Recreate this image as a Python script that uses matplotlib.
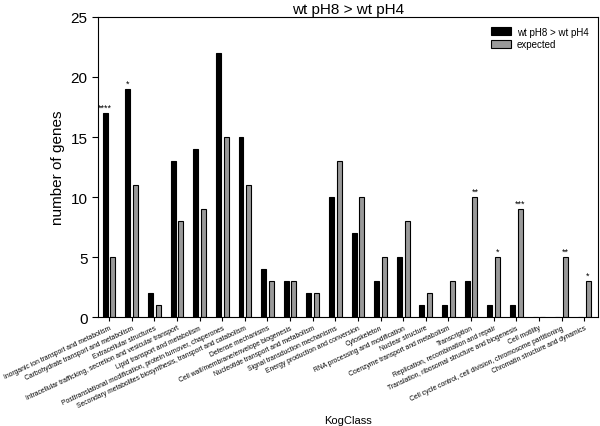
import numpy as np
import matplotlib
matplotlib.use('Agg')
import matplotlib.pyplot as plt

plt.rcParams['font.family'] = ['Liberation Sans', 'DejaVu Sans']

categories = [
    'Inorganic ion transport and metabolism',
    'Carbohydrate transport and metabolism',
    'Extracellular structures',
    'Intracellular trafficking, secretion and vesicular transport',
    'Lipid transport and metabolism',
    'Posttranslational modification, protein turnover, chaperones',
    'Secondary metabolites biosynthesis, transport and catabolism',
    'Defense mechanisms',
    'Cell wall/membrane/envelope biogenesis',
    'Nucleotide transport and metabolism',
    'Signal transduction mechanisms',
    'Energy production and conversion',
    'Cytoskeleton',
    'RNA processing and modification',
    'Nuclear structure',
    'Coenzyme transport and metabolism',
    'Transcription',
    'Replication, recombination and repair',
    'Translation, ribosomal structure and biogenesis',
    'Cell motility',
    'Cell cycle control, cell division, chromosome partitioning',
    'Chromatin structure and dynamics',
]
observed = [17, 19, 2, 13, 14, 22, 15, 4, 3, 2, 10, 7, 3, 5, 1, 1, 3, 1, 1, 0, 0, 0]
expected = [5, 11, 1, 8, 9, 15, 11, 3, 3, 2, 13, 10, 5, 8, 2, 3, 10, 5, 9, 0, 5, 3]

# significance marks: (category index, which bar, stars)
stars = [(0, 'obs', '****'), (1, 'obs', '*'), (16, 'exp', '**'),
         (17, 'exp', '*'), (18, 'exp', '***'), (20, 'exp', '**'), (21, 'exp', '*')]

x = np.arange(len(categories))
w = 0.22
off = 0.17

fig = plt.figure(figsize=(6, 4.27), dpi=100)
ax = fig.add_axes([0.163, 0.255, 0.834, 0.703])

ax.bar(x - off, observed, w, color='black', edgecolor='black', linewidth=0.8, label='wt pH8 > wt pH4')
ax.bar(x + off, expected, w, color='#999999', edgecolor='black', linewidth=0.8, label='expected')

for i, which, s in stars:
    if which == 'obs':
        xs, ys = x[i] - off, observed[i]
    else:
        xs, ys = x[i] + off, expected[i]
    ax.text(xs, ys + 0.1, s, ha='center', va='bottom', fontsize=6.5)

ax.set_xlim(-0.5, len(categories) - 0.38)
ax.set_ylim(0, 25)
ax.set_yticks([0, 5, 10, 15, 20, 25])
ax.tick_params(axis='y', labelsize=11, direction='out', length=4)
ax.set_xticks(x)
ax.set_xticklabels(categories, rotation=25, ha='right', rotation_mode='anchor', fontsize=4.9)
ax.tick_params(axis='x', direction='out', length=3, pad=2)

ax.set_ylabel('number of genes', fontsize=11)
ax.set_xlabel('KogClass', fontsize=8)
ax.xaxis.set_label_coords(0.5, -0.325)
ax.set_title('wt pH8 > wt pH4', fontsize=11, pad=3)

ax.legend(loc='upper right', frameon=False, fontsize=7, handlelength=2.0, handleheight=0.9,
          labelspacing=0.25, handletextpad=0.6, borderaxespad=0.6)

fig.savefig('out.png', dpi=100)
